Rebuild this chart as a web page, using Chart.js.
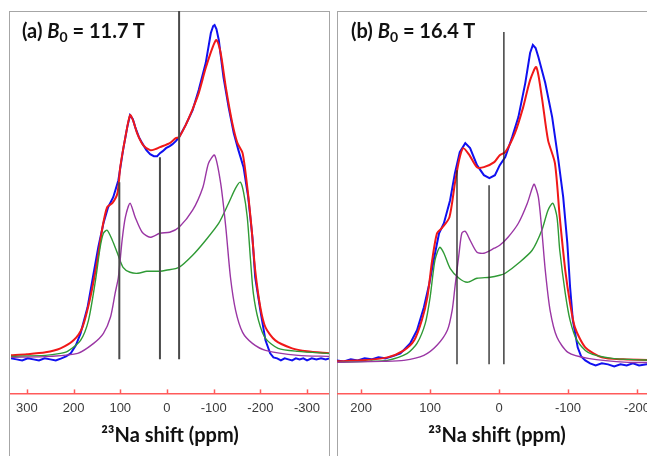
<!DOCTYPE html>
<html>
<head>
<meta charset="utf-8">
<script src="https://cdn.jsdelivr.net/npm/chart.js@4.4.1/dist/chart.umd.min.js"></script>
<style>
  html, body { margin: 0; padding: 0; background: #fff; overflow: hidden; width: 647px; height: 456px; }
  .box    { position: absolute; top: 11px; height: 460px; border: 1px solid #a6a6a6; border-bottom: none; box-sizing: border-box; }
  .label  { position: absolute; top: 18px; font: bold 20px Lato, 'Open Sans', sans-serif; color: #111; white-space: nowrap; }
  .label sub { font-size: 14px; vertical-align: -4px; line-height: 0; }
  canvas  { position: absolute; top: 11px; }
</style>
</head>
<body>

<div class="box" style="left:9px; width:321px"></div>
<div class="box" style="left:337px; width:330px"></div>

<canvas id="chartA" width="320" height="441" style="left:9px"></canvas>
<canvas id="chartB" width="320" height="441" style="left:337px"></canvas>

<div class="label" style="left:22px">(a) <i>B</i><sub>0</sub> = 11.7 T</div>
<div class="label" style="left:351px">(b) <i>B</i><sub>0</sub> = 16.4 T</div>

<script>
// 23Na MAS spectra, two fields. x = shift (ppm), y = intensity (arb.)

// --- (a) 11.7 T ---

const ticksA = [300, 200, 100, 0, -100, -200, -300]

const blueA_ppm = [334, 322, 310, 298, 286, 274, 262, 250, 238, 226, 216, 206, 195, 185, 170, 157, 147, 136, 126, 115, 104, 94, 85, 79, 73, 68, 60, 53, 44, 36, 28, 21, 15, 9, 2, -6, -12, -19, -26, -33, -40, -55, -68, -83, -94, -99, -102, -106, -111, -121, -132, -143, -153, -164, -174, -183, -189, -200, -211, -221, -228, -236, -244, -252, -260, -268, -276, -284, -292, -300, -310, -320, -330, -340, -347]
const blueA     = [-1, -2, -3, -1, -2, -3, -1, -2, -3, -1, 1, 4, 12, 24, 50, 84, 110, 134, 150, 160, 177, 207, 230, 242, 238, 230, 220, 214, 207, 203, 201, 201, 204, 206, 209, 211, 213, 216, 220, 226, 232, 247, 267, 294, 324, 331, 332, 328, 317, 280, 250, 224, 207, 190, 160, 120, 80, 47, 17, 4, 0, -1, -3, -1, -2, -3, -1, -2, -1, -3, -1, -2, -1, -2, -1]

const redA_ppm = [334, 300, 260, 228, 200, 181, 164, 149, 138, 128, 117, 106, 100, 89, 79, 72, 64, 51, 36, 25, 15, -6, -19, -26, -40, -55, -68, -83, -98, -106, -115, -126, -140, -151, -162, -172, -181, -189, -200, -211, -232, -268, -300, -347]
const redA     = [2, 3, 5, 9, 17, 30, 60, 97, 130, 150, 154, 164, 190, 220, 242, 236, 224, 212, 207, 208, 210, 214, 219, 220, 232, 248, 264, 289, 310, 317, 304, 270, 234, 214, 204, 170, 130, 87, 50, 30, 17, 9, 6, 4]

const greenA_ppm = [334, 260, 228, 213, 185, 168, 153, 143, 136, 128, 117, 106, 94, 79, 62, 43, 15, 2, -26, -55, -83, -111, -132, -147, -157, -164, -172, -179, -185, -196, -211, -238, -280, -347]
const greenA     = [1, 2, 4, 6, 17, 37, 77, 110, 124, 127, 117, 104, 90, 85, 84, 86, 86, 87, 90, 102, 117, 134, 154, 169, 175, 165, 140, 97, 64, 37, 19, 9, 6, 4]

const purpleA_ppm = [334, 250, 191, 157, 136, 121, 111, 104, 96, 89, 79, 68, 53, 36, 15, -6, -26, -55, -77, -89, -102, -115, -126, -136, -147, -162, -183, -211, -281, -347]
const purpleA     = [0, 1, 4, 14, 24, 40, 64, 80, 117, 140, 154, 140, 125, 120, 124, 125, 130, 147, 170, 194, 202, 174, 130, 80, 47, 25, 14, 7, 2, 1]

const markersA_ppm = [102, 15, -26]
const markersA_top = [175, 200, 346]

// --- (b) 16.4 T ---

const ticksB = [200, 100, 0, -100, -200]

const blueB_ppm = [235, 225, 215, 205, 195, 185, 175, 165, 155, 143, 129, 119, 109, 101, 94, 87, 80, 71, 64, 57, 49, 42, 32, 22, 14, 6, -1, -9, -19, -28, -38, -45, -49, -53, -57, -67, -77, -86, -93, -99, -103, -107, -114, -119, -125, -132, -140, -149, -158, -167, -176, -185, -194, -203, -214, -229]
const blueB     = [2, 1, 3, 2, 4, 3, 5, 4, 6, 9, 19, 32, 55, 79, 105, 129, 139, 162, 189, 210, 219, 214, 197, 187, 184, 187, 197, 205, 225, 245, 279, 309, 317, 314, 305, 279, 245, 202, 165, 119, 75, 42, 15, 6, 2, -1, -3, -1, -2, -4, -2, -3, -1, -3, -2, -2]

const redB_ppm = [235, 200, 162, 138, 123, 112, 104, 97, 90, 83, 72, 64, 58, 52, 43, 32, 22, 7, -1, -9, -23, -35, -45, -54, -62, -71, -81, -88, -96, -103, -110, -125, -149, -180, -229]
const redB     = [1, 2, 5, 12, 22, 42, 65, 102, 129, 134, 145, 179, 202, 214, 207, 195, 195, 200, 207, 210, 229, 255, 282, 295, 265, 222, 199, 145, 92, 59, 35, 15, 5, 3, 2]

const greenB_ppm = [235, 190, 162, 133, 119, 107, 100, 93, 86, 80, 71, 58, 46, 32, 13, -1, -9, -28, -48, -62, -71, -78, -84, -88, -96, -103, -113, -129, -164, -229]
const greenB     = [0, 1, 2, 9, 19, 39, 65, 102, 115, 109, 94, 84, 80, 84, 85, 87, 89, 99, 112, 132, 152, 159, 145, 112, 69, 42, 22, 10, 4, 2]

const purpleB_ppm = [235, 170, 138, 109, 90, 75, 68, 64, 58, 54, 49, 42, 32, 22, 7, -1, -13, -28, -41, -48, -51, -57, -62, -67, -74, -84, -100, -129, -187, -229]
const purpleB     = [0, 1, 2, 7, 17, 32, 52, 75, 109, 129, 131, 122, 110, 109, 114, 117, 125, 139, 159, 174, 178, 165, 132, 92, 52, 25, 10, 4, 0, 0]

const markersB_ppm = [61, 14.5, -7]
const markersB_top = [192, 177, 330]

const markerBottom = -2

// colours
const cBlue   = '#1010f0'
const cRed    = '#f01818'
const cGreen  = '#2f9a35'
const cPurple = '#9a36a4'
const cAxis   = '#ff5a5a'

Chart.defaults.font.family = "'Liberation Sans', Arial, sans-serif"
Chart.defaults.color       = '#3a3a3a'

const toPoints = (xs, ys) => xs.map((x, i) => ({ x: x, y: ys[i] }))

// tick marks pointing up into the plot, like the original
const upTicks = {
  id: 'upTicks',
  afterDatasetsDraw(chart)
  {
    const { ctx, chartArea } = chart
    const x = chart.scales.x
    ctx.save()
    ctx.strokeStyle = cAxis
    ctx.lineWidth   = 1.5
    x.ticks.forEach(t => {
      const px = Math.round(x.getPixelForValue(t.value)) + 0.5
      ctx.beginPath()
      ctx.moveTo(px, chartArea.bottom)
      ctx.lineTo(px, chartArea.bottom - 4)
      ctx.stroke()
    })
    ctx.restore()
  }
}

function makeSpectrum(canvasId, p)
{
  const datasets = []

  p.markersPpm.forEach((m, i) => {
    datasets.push({
      data:        [{ x: m, y: markerBottom }, { x: m, y: p.markersTop[i] }],
      borderColor: p.markerColor,
      borderWidth: p.markerWidth
    })
  })

  datasets.push({ data: toPoints(p.purplePpm, p.purple), borderColor: cPurple, borderWidth: 1.4, tension: 0.25 })
  datasets.push({ data: toPoints(p.greenPpm,  p.green),  borderColor: cGreen,  borderWidth: 1.4, tension: 0.25 })
  datasets.push({ data: toPoints(p.redPpm,    p.red),    borderColor: cRed,    borderWidth: 2,   tension: 0.25 })
  datasets.push({ data: toPoints(p.bluePpm,   p.blue),   borderColor: cBlue,   borderWidth: 2,   tension: 0 })

  return new Chart(document.getElementById(canvasId), {
    type: 'line',
    data: { datasets: datasets },
    options: {
      responsive: false,
      animation:  false,
      layout:     { padding: 0 },
      elements:   { point: { radius: 0 } },
      plugins:    { legend: { display: false }, tooltip: { enabled: false } },
      scales: {
        x: {
          type:    'linear',
          reverse: true,
          min:     p.xMin,
          max:     p.xMax,
          afterBuildTicks: (scale) => { scale.ticks = p.ticks.map(v => ({ value: v })) },
          grid:   { display: false, drawTicks: false },
          border: { display: true, color: cAxis, width: 1.5 },
          ticks:  {
            padding:     7,
            maxRotation: 0,
            autoSkip:    false,
            font:        { size: 13 },
            color:       '#3a3a3a',
            callback:    (v) => String(v)
          },
          title: {
            display: true,
            text:    '²³Na shift (ppm)',
            color:   '#111',
            font:    { size: 20, weight: 'bold', family: "Lato, 'Open Sans', sans-serif" },
            padding: { top: 1, bottom: 4 }
          }
        },
        y: {
          display: false,
          min:     p.yMin,
          max:     p.yMax
        }
      }
    },
    plugins: [upTicks]
  })
}

makeSpectrum('chartA', {
  xMin: -347, xMax: 334, yMin: -36, yMax: 346, ticks: ticksA,
  bluePpm: blueA_ppm, blue: blueA, redPpm: redA_ppm, red: redA,
  greenPpm: greenA_ppm, green: greenA, purplePpm: purpleA_ppm, purple: purpleA,
  markersPpm: markersA_ppm, markersTop: markersA_top, markerColor: '#4a4a4a', markerWidth: 2
})

makeSpectrum('chartB', {
  xMin: -229, xMax: 235, yMin: -31, yMax: 351, ticks: ticksB,
  bluePpm: blueB_ppm, blue: blueB, redPpm: redB_ppm, red: redB,
  greenPpm: greenB_ppm, green: greenB, purplePpm: purpleB_ppm, purple: purpleB,
  markersPpm: markersB_ppm, markersTop: markersB_top, markerColor: '#222', markerWidth: 1.3
})
</script>
</body>
</html>
